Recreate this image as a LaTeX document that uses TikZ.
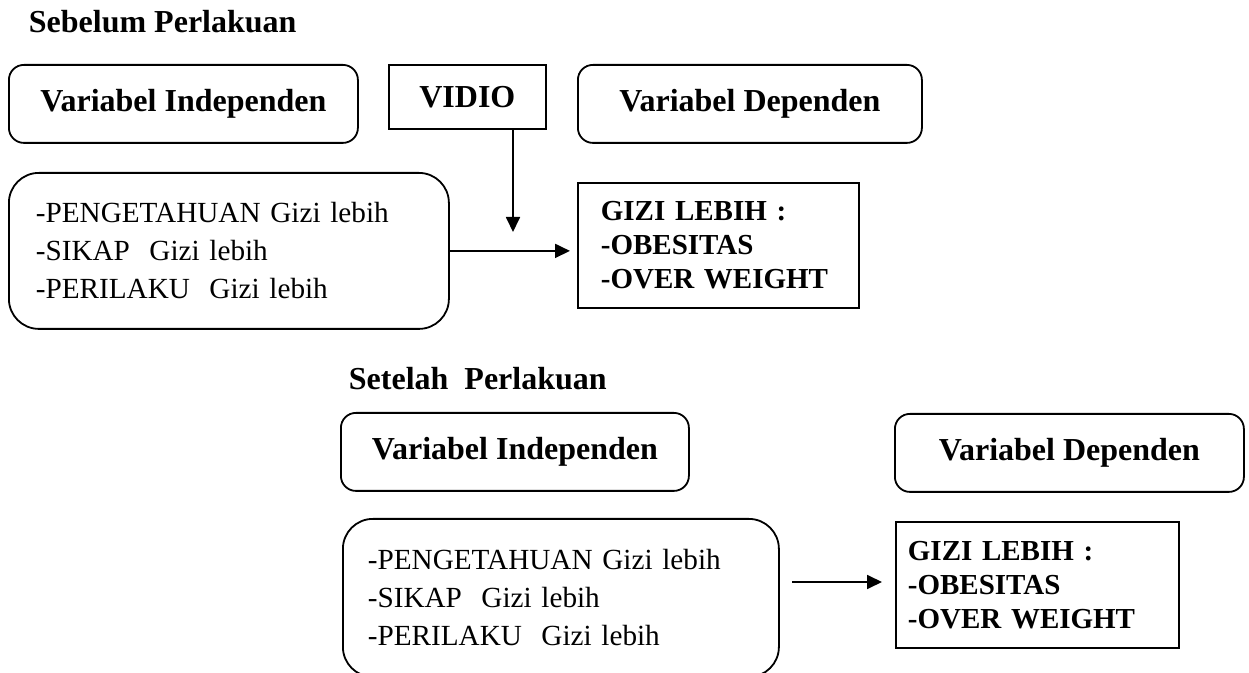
\documentclass[tikz,border=0pt]{standalone}
\usepackage{fontspec}
\setmainfont{Liberation Serif}
\usetikzlibrary{calc}
\usetikzlibrary{positioning}
\usetikzlibrary{arrows.meta}

\begin{document}
\begin{tikzpicture}[x=0.5pt, y=-0.5pt, line width=0.9pt,
      >={Triangle[length=7.5pt, width=7pt]},
      judul/.style={anchor=base west, inner sep=0pt, font=\fontsize{16}{19}\selectfont\bfseries},
      varbox/.style={draw, rounded corners=7.5pt, anchor=north west, inner sep=0pt,
        minimum height=39pt, font=\fontsize{16}{19}\selectfont\bfseries},
      listbox/.style={draw, rounded corners=15pt, anchor=north west, align=left,
        text width=193pt, font=\fontsize{14.6}{19}\selectfont},
      gizibox/.style={draw, anchor=north west, align=left,
        font=\fontsize{14.5}{17}\selectfont\bfseries}]
      \useasboundingbox (0,0) rectangle (1249,673);

      % sebelum perlakuan
      \node[judul] (sebelum) at (28,33) {Sebelum Perlakuan};
      \node[varbox, minimum width=174.5pt] (indepA) at (8,64) {Variabel Independen};
      \node[draw, anchor=north west, minimum width=78.5pt, minimum height=32pt, inner sep=0pt,
        font=\fontsize{16}{19}\selectfont\bfseries] (vidio) at (388,64) {VIDIO};
      \node[varbox, minimum width=172pt] (depA) at (577,64) {Variabel Dependen};
      \node[listbox, inner xsep=13.5pt, minimum height=78pt] (listA) at (8,172)
        {-PENGETAHUAN Gizi lebih\\-SIKAP~ Gizi lebih\\-PERILAKU~ Gizi lebih};
      \node[gizibox, inner xsep=11.5pt, text width=117.5pt, minimum height=62.5pt] (giziA) at (577,182)
        {GIZI LEBIH :\\-OBESITAS\\-OVER WEIGHT};
      \coordinate (vidtip) at (513,232);
      \draw[->] (vidio.south -| vidtip) -- (vidtip);
      \draw[->, shorten >=3.5pt] (listA.east) -- (listA.east -| giziA.west);

      % setelah perlakuan
      \node[judul] (setelah) at (348,390) {Setelah~ Perlakuan};
      \node[varbox, minimum width=174pt] (indepB) at (340,412) {Variabel Independen};
      \node[varbox, minimum width=174.5pt] (depB) at (894,413) {Variabel Dependen};
      \node[listbox, inner xsep=12.5pt, minimum height=79pt] (listB) at (342,518)
        {-PENGETAHUAN Gizi lebih\\-SIKAP~ Gizi lebih\\-PERILAKU~ Gizi lebih};
      \node[gizibox, inner xsep=6pt, text width=129.5pt, minimum height=63pt] (giziB) at (895,521)
        {GIZI LEBIH :\\-OBESITAS\\-OVER WEIGHT};
      \coordinate (panahB) at (792,582);
      \draw[->, shorten >=6.5pt] (panahB) -- (panahB -| giziB.west);
\end{tikzpicture}
\end{document}
